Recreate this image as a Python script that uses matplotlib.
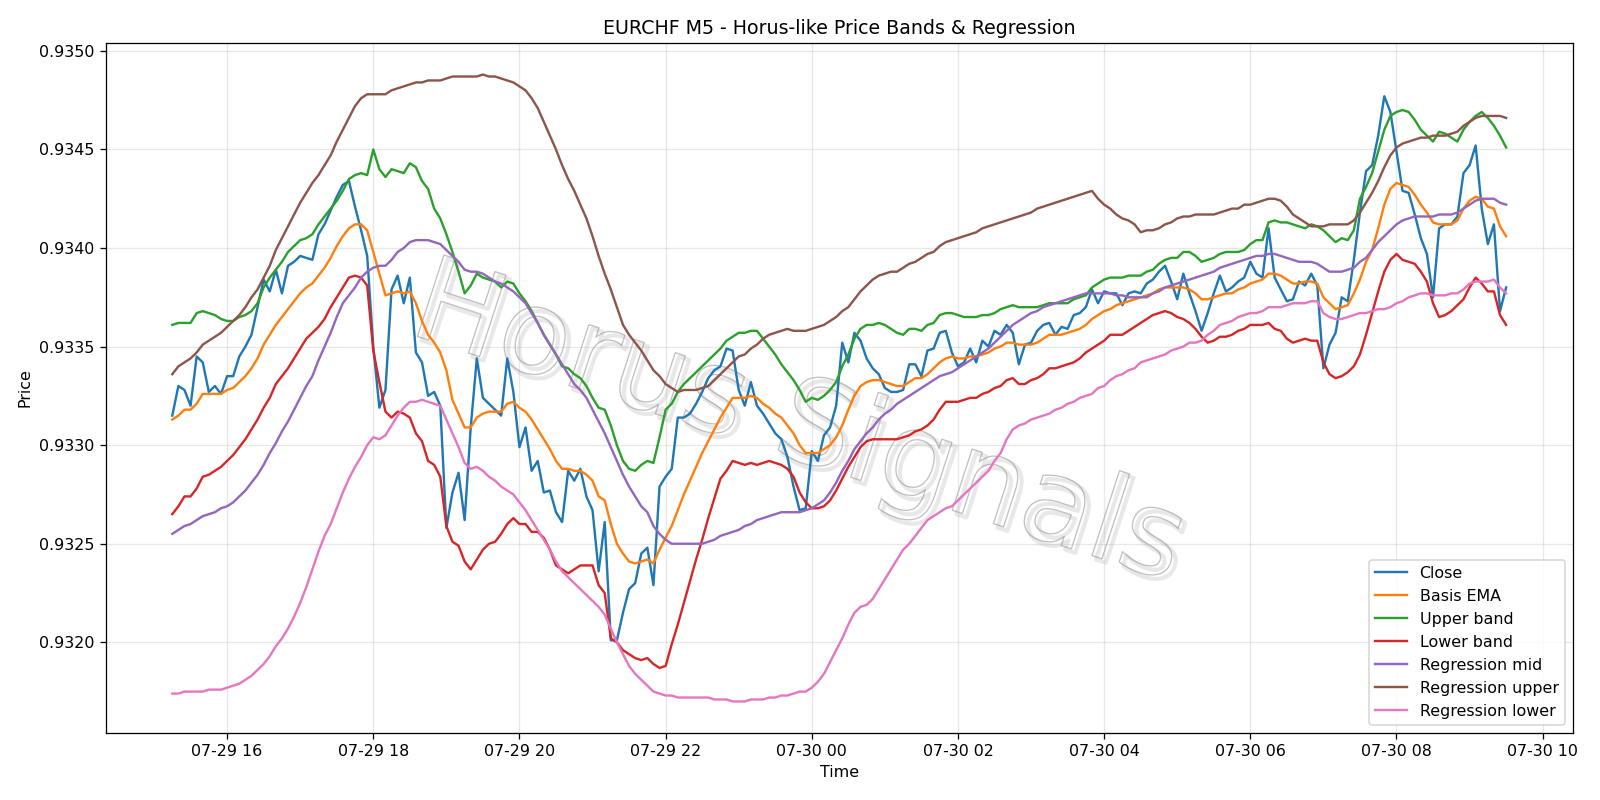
import numpy as np
import pandas as pd
import matplotlib
matplotlib.use("Agg")
import matplotlib.pyplot as plt
import matplotlib.dates as mdates
import matplotlib.patheffects as pe
from matplotlib.ticker import FormatStrFormatter

start_time = "2025-07-29 15:15"
n_points = 220

close = [
    0.93315, 0.93330, 0.93328, 0.93320, 0.93345, 0.93342, 0.93327, 0.93330, 0.93326, 0.93335,
    0.93335, 0.93345, 0.93350, 0.93356, 0.93370, 0.93384, 0.93378, 0.93389, 0.93377, 0.93391,
    0.93393, 0.93396, 0.93395, 0.93394, 0.93407, 0.93412, 0.93419, 0.93426, 0.93432, 0.93434,
    0.93421, 0.93409, 0.93396, 0.93350, 0.93319, 0.93328, 0.93379, 0.93386, 0.93372, 0.93385,
    0.93347, 0.93342, 0.93325, 0.93327, 0.93320, 0.93258, 0.93276, 0.93286, 0.93262, 0.93309,
    0.93344, 0.93324, 0.93321, 0.93318, 0.93315, 0.93344, 0.93327, 0.93299, 0.93309, 0.93287,
    0.93292, 0.93276, 0.93277, 0.93266, 0.93261, 0.93287, 0.93282, 0.93288, 0.93274, 0.93267,
    0.93236, 0.93261, 0.93201, 0.93201, 0.93215, 0.93227, 0.93230, 0.93245, 0.93248, 0.93229,
    0.93279, 0.93284, 0.93288, 0.93314, 0.93314, 0.93316, 0.93321, 0.93327, 0.93334, 0.93338,
    0.93340, 0.93349, 0.93348, 0.93328, 0.93320, 0.93332, 0.93320, 0.93316, 0.93311, 0.93306,
    0.93303, 0.93294, 0.93279, 0.93267, 0.93268, 0.93297, 0.93292, 0.93305, 0.93309, 0.93320,
    0.93352, 0.93342, 0.93357, 0.93353, 0.93344, 0.93339, 0.93336, 0.93329, 0.93327, 0.93327,
    0.93328, 0.93341, 0.93341, 0.93335, 0.93348, 0.93349, 0.93357, 0.93358, 0.93347, 0.93340,
    0.93342, 0.93349, 0.93342, 0.93353, 0.93350, 0.93358, 0.93356, 0.93361, 0.93357, 0.93341,
    0.93351, 0.93352, 0.93358, 0.93361, 0.93362, 0.93356, 0.93360, 0.93359, 0.93366, 0.93367,
    0.93370, 0.93379, 0.93372, 0.93378, 0.93377, 0.93377, 0.93371, 0.93377, 0.93378, 0.93377,
    0.93382, 0.93384, 0.93388, 0.93391, 0.93383, 0.93374, 0.93387, 0.93377, 0.93368, 0.93358,
    0.93367, 0.93377, 0.93386, 0.93378, 0.93380, 0.93383, 0.93385, 0.93393, 0.93387, 0.93385,
    0.93410, 0.93385, 0.93379, 0.93373, 0.93374, 0.93383, 0.93381, 0.93387, 0.93381, 0.93339,
    0.93351, 0.93357, 0.93375, 0.93373, 0.93394, 0.93418, 0.93439, 0.93442, 0.93457, 0.93477,
    0.93469, 0.93449, 0.93429, 0.93428, 0.93417, 0.93405, 0.93397, 0.93375, 0.93410, 0.93412,
    0.93412, 0.93416, 0.93438, 0.93442, 0.93452, 0.93420, 0.93402, 0.93412, 0.93368, 0.93380,
]

basis_ema = [
    0.93313, 0.93315, 0.93318, 0.93318, 0.93321, 0.93326, 0.93326, 0.93326, 0.93326, 0.93328,
    0.93329, 0.93332, 0.93335, 0.93339, 0.93344, 0.93351, 0.93356, 0.93361, 0.93365, 0.93369,
    0.93373, 0.93377, 0.93380, 0.93382, 0.93386, 0.93390, 0.93395, 0.93401, 0.93406, 0.93410,
    0.93412, 0.93412, 0.93409, 0.93398, 0.93387, 0.93376, 0.93377, 0.93378, 0.93377, 0.93378,
    0.93372, 0.93363, 0.93356, 0.93352, 0.93347, 0.93338, 0.93323, 0.93316, 0.93309, 0.93309,
    0.93314, 0.93316, 0.93317, 0.93317, 0.93317, 0.93321, 0.93322, 0.93319, 0.93317, 0.93313,
    0.93308, 0.93303, 0.93298, 0.93292, 0.93288, 0.93288, 0.93287, 0.93287, 0.93285, 0.93282,
    0.93274, 0.93272, 0.93260, 0.93250, 0.93245, 0.93241, 0.93240, 0.93241, 0.93242, 0.93240,
    0.93247, 0.93253, 0.93259, 0.93267, 0.93275, 0.93282, 0.93289, 0.93296, 0.93302, 0.93308,
    0.93314, 0.93319, 0.93324, 0.93324, 0.93324, 0.93325, 0.93324, 0.93321, 0.93319, 0.93316,
    0.93314, 0.93310, 0.93306, 0.93300, 0.93296, 0.93296, 0.93296, 0.93298, 0.93300, 0.93304,
    0.93310, 0.93318, 0.93325, 0.93330, 0.93332, 0.93333, 0.93333, 0.93332, 0.93331, 0.93330,
    0.93330, 0.93332, 0.93334, 0.93334, 0.93336, 0.93339, 0.93342, 0.93344, 0.93345, 0.93344,
    0.93344, 0.93345, 0.93345, 0.93346, 0.93347, 0.93349, 0.93350, 0.93352, 0.93352, 0.93351,
    0.93351, 0.93351, 0.93352, 0.93354, 0.93356, 0.93356, 0.93356, 0.93357, 0.93358, 0.93359,
    0.93361, 0.93364, 0.93366, 0.93368, 0.93369, 0.93371, 0.93372, 0.93373, 0.93374, 0.93375,
    0.93376, 0.93377, 0.93379, 0.93380, 0.93380, 0.93380, 0.93380, 0.93379, 0.93377, 0.93374,
    0.93374, 0.93375, 0.93376, 0.93377, 0.93377, 0.93379, 0.93380, 0.93382, 0.93383, 0.93384,
    0.93387, 0.93387, 0.93386, 0.93384, 0.93382, 0.93382, 0.93383, 0.93383, 0.93382, 0.93375,
    0.93372, 0.93369, 0.93370, 0.93371, 0.93377, 0.93384, 0.93393, 0.93399, 0.93410, 0.93422,
    0.93430, 0.93433, 0.93432, 0.93431, 0.93427, 0.93422, 0.93418, 0.93413, 0.93412, 0.93412,
    0.93412, 0.93414, 0.93420, 0.93424, 0.93426, 0.93425, 0.93421, 0.93420, 0.93411, 0.93406,
]

upper_band = [
    0.93361, 0.93362, 0.93362, 0.93362, 0.93367, 0.93368, 0.93367, 0.93366, 0.93364, 0.93363,
    0.93363, 0.93365, 0.93366, 0.93368, 0.93372, 0.93380, 0.93385, 0.93389, 0.93393, 0.93398,
    0.93401, 0.93404, 0.93405, 0.93407, 0.93412, 0.93416, 0.93420, 0.93424, 0.93429, 0.93435,
    0.93437, 0.93438, 0.93437, 0.93450, 0.93440, 0.93436, 0.93440, 0.93439, 0.93438, 0.93443,
    0.93441, 0.93434, 0.93430, 0.93420, 0.93415, 0.93407, 0.93398, 0.93388, 0.93377, 0.93381,
    0.93387, 0.93385, 0.93384, 0.93383, 0.93380, 0.93383, 0.93382, 0.93377, 0.93373, 0.93368,
    0.93362, 0.93356, 0.93351, 0.93346, 0.93340, 0.93339, 0.93336, 0.93334, 0.93330, 0.93324,
    0.93319, 0.93318, 0.93310, 0.93300, 0.93292, 0.93288, 0.93287, 0.93290, 0.93292, 0.93291,
    0.93304, 0.93318, 0.93321, 0.93327, 0.93331, 0.93334, 0.93337, 0.93340, 0.93343, 0.93346,
    0.93349, 0.93353, 0.93355, 0.93357, 0.93357, 0.93358, 0.93358, 0.93354, 0.93350, 0.93346,
    0.93341, 0.93337, 0.93333, 0.93328, 0.93322, 0.93324, 0.93323, 0.93325, 0.93328, 0.93332,
    0.93340, 0.93346, 0.93354, 0.93359, 0.93361, 0.93361, 0.93362, 0.93361, 0.93359, 0.93357,
    0.93356, 0.93359, 0.93359, 0.93358, 0.93361, 0.93362, 0.93366, 0.93367, 0.93367, 0.93366,
    0.93365, 0.93365, 0.93365, 0.93366, 0.93366, 0.93367, 0.93369, 0.93370, 0.93371, 0.93370,
    0.93370, 0.93370, 0.93370, 0.93371, 0.93372, 0.93372, 0.93372, 0.93372, 0.93374, 0.93375,
    0.93376, 0.93380, 0.93382, 0.93384, 0.93385, 0.93385, 0.93385, 0.93386, 0.93386, 0.93386,
    0.93388, 0.93389, 0.93392, 0.93394, 0.93395, 0.93395, 0.93398, 0.93398, 0.93396, 0.93393,
    0.93394, 0.93395, 0.93397, 0.93398, 0.93398, 0.93398, 0.93399, 0.93402, 0.93404, 0.93404,
    0.93413, 0.93414, 0.93413, 0.93413, 0.93412, 0.93411, 0.93410, 0.93412, 0.93411, 0.93409,
    0.93406, 0.93403, 0.93405, 0.93404, 0.93409, 0.93425, 0.93431, 0.93438, 0.93449, 0.93460,
    0.93467, 0.93469, 0.93470, 0.93469, 0.93465, 0.93460, 0.93457, 0.93454, 0.93459, 0.93458,
    0.93456, 0.93454, 0.93460, 0.93464, 0.93467, 0.93469, 0.93466, 0.93462, 0.93457, 0.93451,
]

lower_band = [
    0.93265, 0.93269, 0.93274, 0.93274, 0.93278, 0.93284, 0.93285, 0.93287, 0.93289, 0.93292,
    0.93295, 0.93299, 0.93303, 0.93308, 0.93313, 0.93319, 0.93324, 0.93331, 0.93335, 0.93339,
    0.93344, 0.93349, 0.93354, 0.93357, 0.93360, 0.93364, 0.93370, 0.93375, 0.93380, 0.93385,
    0.93386, 0.93385, 0.93381, 0.93348, 0.93332, 0.93317, 0.93314, 0.93317, 0.93316, 0.93314,
    0.93306, 0.93302, 0.93292, 0.93290, 0.93284, 0.93259, 0.93251, 0.93249, 0.93241, 0.93237,
    0.93242, 0.93247, 0.93250, 0.93251, 0.93255, 0.93260, 0.93263, 0.93260, 0.93260, 0.93256,
    0.93256, 0.93253, 0.93247, 0.93239, 0.93237, 0.93235, 0.93237, 0.93239, 0.93239, 0.93239,
    0.93229, 0.93225, 0.93202, 0.93200, 0.93196, 0.93194, 0.93192, 0.93191, 0.93192, 0.93189,
    0.93187, 0.93188, 0.93199, 0.93209, 0.93220, 0.93231, 0.93242, 0.93252, 0.93263, 0.93273,
    0.93283, 0.93287, 0.93292, 0.93291, 0.93290, 0.93291, 0.93290, 0.93291, 0.93292, 0.93291,
    0.93290, 0.93288, 0.93284, 0.93276, 0.93271, 0.93268, 0.93268, 0.93269, 0.93272, 0.93277,
    0.93283, 0.93289, 0.93294, 0.93299, 0.93302, 0.93303, 0.93303, 0.93303, 0.93303, 0.93303,
    0.93304, 0.93305, 0.93307, 0.93308, 0.93310, 0.93313, 0.93318, 0.93322, 0.93322, 0.93322,
    0.93323, 0.93324, 0.93324, 0.93326, 0.93327, 0.93329, 0.93330, 0.93333, 0.93334, 0.93331,
    0.93331, 0.93333, 0.93334, 0.93336, 0.93339, 0.93339, 0.93340, 0.93341, 0.93342, 0.93344,
    0.93347, 0.93349, 0.93351, 0.93353, 0.93356, 0.93356, 0.93356, 0.93358, 0.93360, 0.93362,
    0.93364, 0.93366, 0.93367, 0.93368, 0.93367, 0.93365, 0.93364, 0.93362, 0.93359, 0.93355,
    0.93352, 0.93353, 0.93355, 0.93355, 0.93356, 0.93358, 0.93359, 0.93361, 0.93361, 0.93361,
    0.93362, 0.93359, 0.93358, 0.93354, 0.93352, 0.93353, 0.93354, 0.93353, 0.93353, 0.93342,
    0.93336, 0.93334, 0.93335, 0.93337, 0.93340, 0.93346, 0.93356, 0.93367, 0.93378, 0.93388,
    0.93394, 0.93397, 0.93394, 0.93393, 0.93392, 0.93388, 0.93383, 0.93372, 0.93365, 0.93366,
    0.93368, 0.93371, 0.93374, 0.93380, 0.93385, 0.93382, 0.93378, 0.93378, 0.93366, 0.93361,
]

regression_mid = [
    0.93255, 0.93257, 0.93259, 0.93260, 0.93262, 0.93264, 0.93265, 0.93266, 0.93268, 0.93269,
    0.93271, 0.93274, 0.93277, 0.93281, 0.93285, 0.93290, 0.93296, 0.93301, 0.93307, 0.93312,
    0.93318, 0.93324, 0.93330, 0.93335, 0.93343, 0.93350, 0.93357, 0.93365, 0.93372, 0.93376,
    0.93380, 0.93385, 0.93388, 0.93390, 0.93391, 0.93391, 0.93394, 0.93398, 0.93400, 0.93403,
    0.93404, 0.93404, 0.93404, 0.93403, 0.93402, 0.93399, 0.93396, 0.93393, 0.93389, 0.93388,
    0.93388, 0.93387, 0.93385, 0.93383, 0.93382, 0.93380, 0.93378, 0.93375, 0.93372, 0.93367,
    0.93362, 0.93356, 0.93351, 0.93346, 0.93341, 0.93336, 0.93331, 0.93328, 0.93324, 0.93318,
    0.93312, 0.93306, 0.93299, 0.93292, 0.93285, 0.93279, 0.93274, 0.93269, 0.93266, 0.93259,
    0.93255, 0.93252, 0.93250, 0.93250, 0.93250, 0.93250, 0.93250, 0.93250, 0.93251, 0.93252,
    0.93254, 0.93255, 0.93256, 0.93257, 0.93259, 0.93260, 0.93262, 0.93263, 0.93264, 0.93265,
    0.93266, 0.93266, 0.93266, 0.93266, 0.93267, 0.93268, 0.93270, 0.93272, 0.93276, 0.93281,
    0.93287, 0.93292, 0.93298, 0.93302, 0.93306, 0.93309, 0.93313, 0.93316, 0.93318, 0.93321,
    0.93323, 0.93325, 0.93327, 0.93329, 0.93331, 0.93333, 0.93335, 0.93336, 0.93337, 0.93339,
    0.93341, 0.93343, 0.93345, 0.93347, 0.93349, 0.93352, 0.93355, 0.93358, 0.93361, 0.93363,
    0.93365, 0.93367, 0.93368, 0.93370, 0.93371, 0.93372, 0.93373, 0.93374, 0.93375, 0.93376,
    0.93377, 0.93377, 0.93377, 0.93377, 0.93377, 0.93376, 0.93376, 0.93375, 0.93375, 0.93375,
    0.93375, 0.93377, 0.93378, 0.93380, 0.93381, 0.93382, 0.93383, 0.93384, 0.93385, 0.93386,
    0.93387, 0.93388, 0.93390, 0.93391, 0.93392, 0.93393, 0.93394, 0.93395, 0.93396, 0.93396,
    0.93397, 0.93397, 0.93396, 0.93395, 0.93394, 0.93393, 0.93393, 0.93393, 0.93392, 0.93390,
    0.93388, 0.93388, 0.93388, 0.93389, 0.93390, 0.93393, 0.93395, 0.93399, 0.93403, 0.93406,
    0.93409, 0.93412, 0.93414, 0.93415, 0.93416, 0.93416, 0.93416, 0.93416, 0.93417, 0.93417,
    0.93417, 0.93418, 0.93420, 0.93422, 0.93424, 0.93425, 0.93425, 0.93425, 0.93423, 0.93422,
]

regression_upper = [
    0.93336, 0.93340, 0.93342, 0.93344, 0.93347, 0.93351, 0.93353, 0.93355, 0.93357, 0.93360,
    0.93363, 0.93366, 0.93370, 0.93375, 0.93379, 0.93385, 0.93391, 0.93399, 0.93405, 0.93411,
    0.93417, 0.93423, 0.93428, 0.93433, 0.93437, 0.93442, 0.93447, 0.93454, 0.93460, 0.93466,
    0.93472, 0.93476, 0.93478, 0.93478, 0.93478, 0.93478, 0.93480, 0.93481, 0.93482, 0.93483,
    0.93484, 0.93484, 0.93485, 0.93485, 0.93485, 0.93486, 0.93487, 0.93487, 0.93487, 0.93487,
    0.93487, 0.93488, 0.93487, 0.93487, 0.93486, 0.93485, 0.93484, 0.93482, 0.93480, 0.93476,
    0.93471, 0.93464, 0.93457, 0.93450, 0.93442, 0.93435, 0.93429, 0.93422, 0.93415, 0.93406,
    0.93396, 0.93387, 0.93379, 0.93370, 0.93361, 0.93356, 0.93352, 0.93348, 0.93343, 0.93338,
    0.93335, 0.93331, 0.93329, 0.93327, 0.93328, 0.93328, 0.93328, 0.93329, 0.93330, 0.93333,
    0.93336, 0.93339, 0.93342, 0.93345, 0.93346, 0.93349, 0.93351, 0.93354, 0.93356, 0.93357,
    0.93358, 0.93359, 0.93358, 0.93358, 0.93358, 0.93359, 0.93360, 0.93361, 0.93363, 0.93365,
    0.93368, 0.93370, 0.93374, 0.93378, 0.93381, 0.93384, 0.93386, 0.93387, 0.93388, 0.93388,
    0.93390, 0.93392, 0.93393, 0.93395, 0.93397, 0.93398, 0.93401, 0.93403, 0.93404, 0.93405,
    0.93406, 0.93407, 0.93408, 0.93410, 0.93411, 0.93412, 0.93413, 0.93414, 0.93415, 0.93416,
    0.93417, 0.93418, 0.93420, 0.93421, 0.93422, 0.93423, 0.93424, 0.93425, 0.93426, 0.93427,
    0.93428, 0.93429, 0.93425, 0.93422, 0.93420, 0.93417, 0.93415, 0.93414, 0.93412, 0.93408,
    0.93409, 0.93409, 0.93410, 0.93412, 0.93413, 0.93415, 0.93416, 0.93416, 0.93417, 0.93417,
    0.93417, 0.93417, 0.93418, 0.93419, 0.93420, 0.93420, 0.93422, 0.93422, 0.93423, 0.93424,
    0.93425, 0.93425, 0.93424, 0.93421, 0.93417, 0.93415, 0.93413, 0.93411, 0.93411, 0.93411,
    0.93412, 0.93412, 0.93412, 0.93412, 0.93414, 0.93418, 0.93423, 0.93428, 0.93434, 0.93441,
    0.93447, 0.93451, 0.93453, 0.93454, 0.93455, 0.93456, 0.93456, 0.93457, 0.93457, 0.93457,
    0.93458, 0.93459, 0.93462, 0.93464, 0.93466, 0.93467, 0.93467, 0.93467, 0.93467, 0.93466,
]

regression_lower = [
    0.93174, 0.93174, 0.93175, 0.93175, 0.93175, 0.93175, 0.93176, 0.93176, 0.93176, 0.93177,
    0.93178, 0.93179, 0.93181, 0.93183, 0.93186, 0.93189, 0.93193, 0.93198, 0.93202, 0.93207,
    0.93213, 0.93220, 0.93228, 0.93237, 0.93246, 0.93254, 0.93260, 0.93268, 0.93276, 0.93283,
    0.93289, 0.93294, 0.93300, 0.93304, 0.93303, 0.93305, 0.93310, 0.93315, 0.93319, 0.93322,
    0.93322, 0.93323, 0.93322, 0.93321, 0.93320, 0.93313, 0.93306, 0.93299, 0.93291, 0.93288,
    0.93289, 0.93287, 0.93284, 0.93282, 0.93279, 0.93277, 0.93275, 0.93271, 0.93267, 0.93262,
    0.93257, 0.93252, 0.93247, 0.93241, 0.93236, 0.93233, 0.93230, 0.93227, 0.93224, 0.93221,
    0.93218, 0.93214, 0.93207, 0.93200, 0.93194, 0.93188, 0.93184, 0.93181, 0.93178, 0.93175,
    0.93174, 0.93173, 0.93173, 0.93172, 0.93172, 0.93172, 0.93172, 0.93172, 0.93172, 0.93171,
    0.93171, 0.93171, 0.93170, 0.93170, 0.93170, 0.93171, 0.93171, 0.93171, 0.93172, 0.93172,
    0.93173, 0.93173, 0.93174, 0.93175, 0.93175, 0.93177, 0.93180, 0.93184, 0.93190, 0.93196,
    0.93202, 0.93209, 0.93215, 0.93218, 0.93219, 0.93222, 0.93227, 0.93232, 0.93237, 0.93242,
    0.93247, 0.93250, 0.93254, 0.93258, 0.93262, 0.93264, 0.93266, 0.93268, 0.93269, 0.93272,
    0.93275, 0.93278, 0.93281, 0.93284, 0.93287, 0.93292, 0.93296, 0.93303, 0.93308, 0.93310,
    0.93311, 0.93313, 0.93314, 0.93315, 0.93316, 0.93318, 0.93319, 0.93321, 0.93322, 0.93324,
    0.93325, 0.93326, 0.93329, 0.93330, 0.93333, 0.93335, 0.93336, 0.93338, 0.93339, 0.93342,
    0.93343, 0.93344, 0.93345, 0.93346, 0.93348, 0.93349, 0.93350, 0.93352, 0.93352, 0.93353,
    0.93356, 0.93358, 0.93361, 0.93362, 0.93363, 0.93365, 0.93366, 0.93367, 0.93367, 0.93368,
    0.93370, 0.93370, 0.93370, 0.93371, 0.93372, 0.93372, 0.93372, 0.93373, 0.93373, 0.93367,
    0.93365, 0.93364, 0.93364, 0.93365, 0.93366, 0.93367, 0.93367, 0.93368, 0.93369, 0.93369,
    0.93370, 0.93372, 0.93373, 0.93375, 0.93376, 0.93377, 0.93377, 0.93376, 0.93376, 0.93376,
    0.93377, 0.93377, 0.93379, 0.93382, 0.93383, 0.93383, 0.93383, 0.93384, 0.93380, 0.93377,
]

series = [
    ("Close", close, "#1f77b4"),
    ("Basis EMA", basis_ema, "#ff7f0e"),
    ("Upper band", upper_band, "#2ca02c"),
    ("Lower band", lower_band, "#d62728"),
    ("Regression mid", regression_mid, "#9467bd"),
    ("Regression upper", regression_upper, "#8c564b"),
    ("Regression lower", regression_lower, "#e377c2"),
]

times = pd.date_range(start_time, periods=n_points, freq="5min")

DPI = 1600 / 14
fig, ax = plt.subplots(figsize=(14, 7), dpi=DPI)
for label, vals, col in series:
    ax.plot(times, vals, label=label, color=col, linewidth=1.5, zorder=3)

ax.text(0.472, 0.445, "Horus Signals", transform=ax.transAxes,
        fontsize=74, rotation=-18, ha="center", va="center",
        color=(1, 1, 1, 0), zorder=1,
        path_effects=[
            pe.Stroke(linewidth=2.6, foreground=(0.6, 0.6, 0.6, 0.22), offset=(2.5, -2.5)),
            pe.Stroke(linewidth=0.8, foreground=(0.55, 0.55, 0.55, 0.55)),
        ])

ax.set_title("EURCHF M5 - Horus-like Price Bands & Regression")
ax.set_xlabel("Time")
ax.set_ylabel("Price")
ax.grid(True, alpha=0.3)
ax.legend(loc="lower right")
ax.xaxis.set_major_locator(mdates.HourLocator(byhour=range(0, 24, 2)))
ax.xaxis.set_major_formatter(mdates.DateFormatter("%m-%d %H"))
ax.yaxis.set_major_formatter(FormatStrFormatter("%.4f"))

fig.subplots_adjust(left=0.066, right=0.983, bottom=0.084, top=0.946)
fig.savefig("out.png", dpi=DPI)
